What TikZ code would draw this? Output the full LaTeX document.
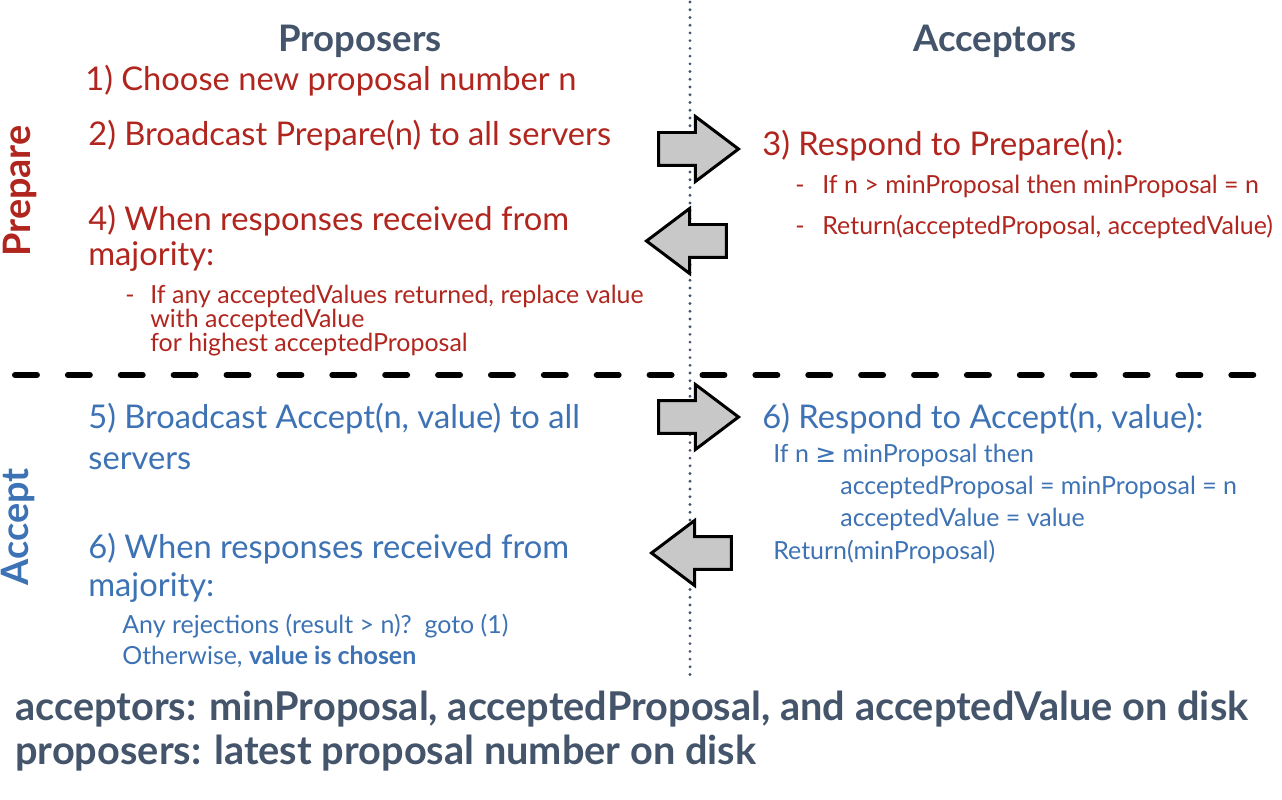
\documentclass[tikz,border=0pt]{standalone}
\usepackage{fontspec}
\setmainfont{Lato}
\newfontfamily\symfont{DejaVu Sans}
\usetikzlibrary{shapes.arrows}

\definecolor{paxred}{RGB}{176,37,30}
\definecolor{paxblue}{RGB}{61,114,180}
\definecolor{slate}{RGB}{68,84,106}
\definecolor{arrowgrey}{RGB}{200,200,200}

\begin{document}
\begin{tikzpicture}[x=0.02cm, y=-0.02cm,
    every node/.style={inner sep=0pt, anchor=base west},
    head text/.style={font=\fontsize{20.8}{24}\selectfont\bfseries, text=slate, anchor=base},
    step text/.style={font=\fontsize{18.6}{22}\selectfont},
    sub text/.style={font=\fontsize{14.2}{17}\selectfont},
    phase label/.style={font=\fontsize{21.5}{24}\selectfont\bfseries, rotate=90, anchor=base},
    note text/.style={font=\fontsize{22.6}{26}\selectfont\bfseries, text=slate},
    block arrow/.style={single arrow, draw=black, fill=arrowgrey, line width=1.7pt,
      minimum height=1.6cm, single arrow head extend=0.32cm,
      single arrow tip angle=74, inner xsep=0pt, inner ysep=0.3cm, anchor=tip}]

  \useasboundingbox (0,0) rectangle (1282,800);

  % column heads and separators
  \node[head text] (proposers) at (360,52) {Proposers};
  \node[head text] (acceptors) at (995,52) {Acceptors};
  \draw[slate, line width=1.8pt, line cap=round, dash pattern=on 0pt off 4.4pt] (690,2) -- (690,675);
  \draw[black, line width=3.4pt, line cap=round, dash pattern=on 12.5pt off 17.6pt] (15,375) -- (1275,375);

  \node[phase label, text=paxred] (prepare) at (31,191) {Prepare};
  \node[phase label, text=paxblue] (accept) at (29,527) {Accept};

  % prepare phase
  \node[step text, text=paxred] (choose) at (85,91) {1) Choose new proposal number n};
  \node[step text, text=paxred] (bcprep) at (88,146) {2) Broadcast Prepare(n) to all servers};
  \node[step text, text=paxred] (whenprep) at (88,231) {4) When responses received from};
  \node[step text, text=paxred] (majprep) at (88,266) {majority:};
  \node[sub text, text=paxred] (ifany) at (125,304) {\makebox[0.5cm][l]{-}If any acceptedValues returned, replace value};
  \node[sub text, text=paxred] (withval) at (150,328) {with acceptedValue};
  \node[sub text, text=paxred] (forhigh) at (150,352) {for highest acceptedProposal};

  \node[step text, text=paxred] (respprep) at (762,156) {3) Respond to Prepare(n):};
  \node[sub text, text=paxred] (ifmin) at (795,194) {\makebox[0.54cm][l]{-}If n > minProposal then minProposal = n};
  \node[sub text, text=paxred] (retprep) at (795,235) {\makebox[0.54cm][l]{-}Return(acceptedProposal, acceptedValue)};

  \node[block arrow] (prepout) at (741,149) {};
  \node[block arrow, shape border rotate=180] (prepin) at (644,241) {};

  % accept phase
  \node[step text, text=paxblue] (bcacc) at (88,429) {5) Broadcast Accept(n, value) to all};
  \node[step text, text=paxblue] (servers) at (88,470) {servers};
  \node[step text, text=paxblue] (whenacc) at (88,559) {6) When responses received from};
  \node[step text, text=paxblue] (majacc) at (88,597) {majority:};
  \node[sub text, text=paxblue] (reject) at (122,633) {Any rejections (result > n)?~~goto (1)};
  \node[sub text, text=paxblue] (chosen) at (122,664) {Otherwise, \textbf{value is chosen}};

  \node[step text, text=paxblue] (respacc) at (762,429) {6) Respond to Accept(n, value):};
  \node[sub text, text=paxblue] (ifge) at (773,463) {If n {\symfont ≥} minProposal then};
  \node[sub text, text=paxblue] (setprop) at (840,495) {acceptedProposal = minProposal = n};
  \node[sub text, text=paxblue] (setval) at (840,527) {acceptedValue = value};
  \node[sub text, text=paxblue] (retacc) at (773,560) {Return(minProposal)};

  \node[block arrow] (accout) at (741,417) {};
  \node[block arrow, shape border rotate=180] (accin) at (649,553) {};

  % persistent state
  \node[note text] (accstate) at (15,720) {acceptors: minProposal, acceptedProposal, and acceptedValue on disk};
  \node[note text] (propstate) at (15,764) {proposers: latest proposal number on disk};
\end{tikzpicture}
\end{document}
